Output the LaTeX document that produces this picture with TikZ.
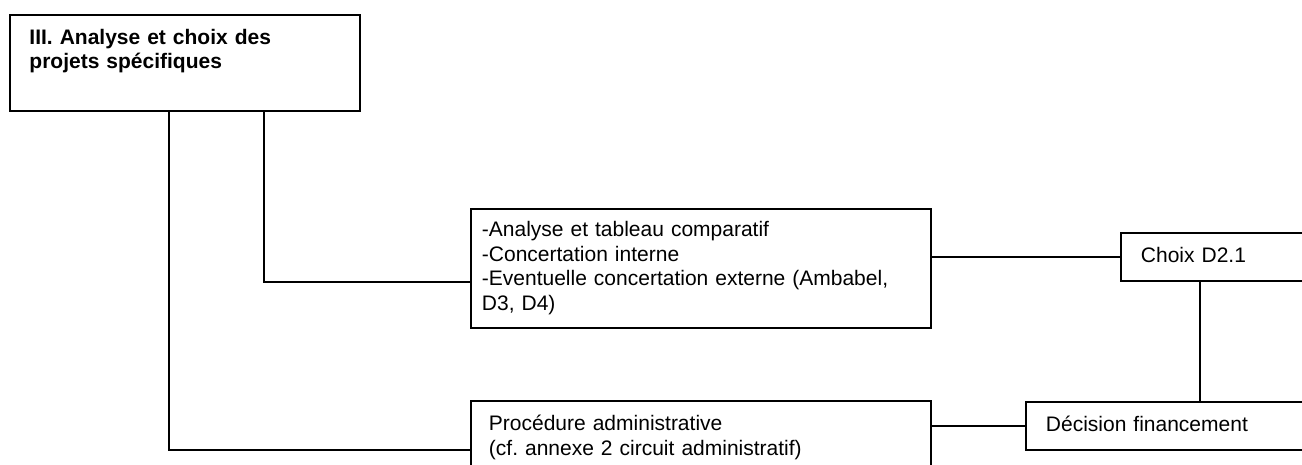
\documentclass[tikz,border=0pt]{standalone}
\usepackage{fontspec}
\setmainfont{Liberation Sans}
\frenchspacing

\begin{document}
\begin{tikzpicture}[x=1pt, y=-1pt, line width=1.9pt,
  box/.style={rectangle, draw, anchor=north west, align=left, inner ysep=0pt, inner xsep=#1, font=\fontsize{21}{24.5}\selectfont},
  box/.default=20pt]
  \useasboundingbox (0,0) rectangle (1302,465);
  \clip (0,0) rectangle (1302,465);
  \node[box=19.5pt, text width=311pt, text height=30pt, text depth=66pt, font=\bfseries\fontsize{21}{24}\selectfont] (phase) at (9,14) {III. Analyse et choix des\\projets spécifiques};
  \node[box=11pt, text width=438pt, text height=28pt, text depth=91pt] (analysis) at (470,208) {-Analyse et tableau comparatif\\-Concertation interne\\-Eventuelle concertation externe (Ambabel,\\D3, D4)};
  \node[box=18pt, text width=424pt, text height=30pt, text depth=68pt] (procedure) at (470,400) {Procédure administrative\\(cf. annexe 2 circuit administratif)};
  \node[box, text width=200pt, text height=30pt, text depth=18pt] (choice) at (1120,232) {Choix D2.1};
  \node[box, text width=300pt, text height=30pt, text depth=18pt] (funding) at (1025,401) {Décision financement};
  % Connectors
  \coordinate (legA) at ([xshift=160pt]phase.south west);
  \coordinate (legB) at ([xshift=255pt]phase.south west);
  \coordinate (drop) at ([xshift=80pt]choice.south west);
  \draw (legA) |- (procedure.west);
  \draw (legB) |- ([yshift=-13.5pt]analysis.west);
  \draw (choice.west) -- (choice.west -| analysis.east);
  \draw (funding.west) -- (funding.west -| procedure.east);
  \draw (drop) -- (drop |- funding.north);
\end{tikzpicture}
\end{document}
